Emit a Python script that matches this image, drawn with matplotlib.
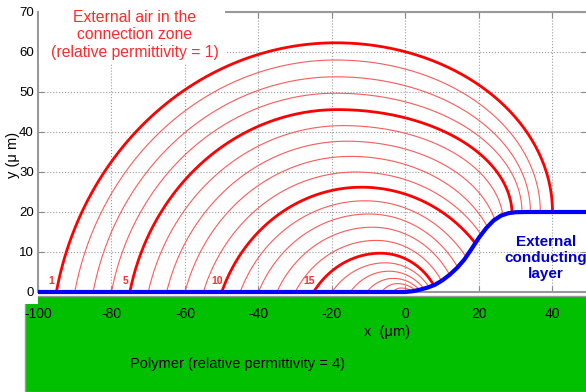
import numpy as np
import matplotlib.pyplot as plt
from matplotlib.patches import Rectangle

plt.rcParams['font.family'] = ['Liberation Sans', 'DejaVu Sans']
plt.rcParams['axes.unicode_minus'] = False

# conducting layer profile (um)
blue_x = [-100, 0, 2, 4, 6, 8, 10, 12, 14, 16, 18, 20, 22, 24, 26, 28, 30, 33, 49.5]
blue_y = [0, 0, 0.2, 0.6, 1.1, 1.8, 2.9, 4.3, 6.0, 8.1, 10.8, 13.6, 16.0, 17.9, 19.1, 19.7, 19.95, 20, 20]

# field lines: foot on the polymer, top of the arc, end on the conducting layer
foot_x = [-95, -90, -85, -80, -75, -70, -65, -60, -55, -50,
          -45, -40, -35, -30, -25, -20, -15, -10.5, -6.5, -3.5]
peak_x = [-19, -19, -19, -19, -18.5, -17, -16, -15, -13.5, -12,
          -11, -10, -9, -8, -6.8, -5.5, -4.5, -3.3, -2.2, -1.2]
peak_y = [62.3, 58.0, 53.8, 49.7, 45.6, 41.6, 37.7, 33.9, 30.0, 26.2,
          22.8, 19.5, 16.2, 12.9, 9.7, 7.3, 5.2, 3.4, 2.1, 1.0]
end_x = [40, 36.7, 34, 31.7, 29, 26.5, 24.3, 22.3, 20.6, 19,
         16.5, 14.2, 12, 9.8, 7.7, 6.4, 5.0, 3.8, 2.8, 1.8]
thick_lines = [0, 4, 9, 14]
line_labels = ['1', '5', '10', '15']

x_ticks = [-100, -80, -60, -40, -20, 0, 20, 40]
y_ticks = [0, 10, 20, 30, 40, 50, 60, 70]

end_y = np.interp(end_x, blue_x, blue_y)


def field_line(x0, px, py, ex, ey, n=120):
    # left half: circular arc, flat at the top
    dx = px - x0
    c = (py ** 2 - dx ** 2) / (2 * py)
    r = py - c
    t = np.linspace(np.arctan2(-c, x0 - px), np.pi / 2, n)
    lx, ly = px + r * np.cos(t), c + r * np.sin(t)
    # right half: elliptic arc down to the conducting layer
    X = ex - px
    cc = (py ** 2 - ey ** 2 - X ** 2) / (2 * (py - ey))
    c2 = max(ey - 3 * (20 - ey), cc)
    b = py - c2
    Y = ey - c2
    a = X / np.sqrt(max(1 - (Y / b) ** 2, 1e-9))
    t = np.linspace(np.pi / 2, np.arcsin(Y / b), n)
    rx, ry = px + a * np.cos(t), c2 + b * np.sin(t)
    return np.concatenate([lx, rx]), np.concatenate([ly, ry])


fig = plt.figure(figsize=(5.86, 3.92), dpi=100)
ax = fig.add_axes([38 / 586, 100 / 392, 549.4 / 586, 280 / 392])
ax.set_axisbelow(True)

# polymer block under the axes
ax.add_patch(Rectangle((25 / 586, 0), 1, 96 / 392, transform=fig.transFigure,
                       facecolor='#00c000', edgecolor='#999999', lw=1,
                       clip_on=False, zorder=0.3))

for i in range(len(foot_x)):
    xs, ys = field_line(foot_x[i], peak_x[i], peak_y[i], end_x[i], end_y[i])
    if i in thick_lines:
        ax.plot(xs, ys, color='#ff0000', lw=2, zorder=3)
    else:
        ax.plot(xs, ys, color='#ff5a5a', lw=0.8, zorder=3)

for k, lab in zip(thick_lines, line_labels):
    ax.text(foot_x[k] - 1.3, 2.8, lab, color='#ff3030', fontsize=7.5,
            fontweight='bold', ha='center', va='center', zorder=4)

ax.plot(blue_x, blue_y, color='#0000ff', lw=3, zorder=5, clip_on=False,
        solid_capstyle='butt')

ax.set_xlim(-100, 49.5)
ax.set_ylim(0, 70)
ax.set_xticks(x_ticks)
ax.set_yticks(y_ticks)
ax.grid(True, linestyle=':', color='#999999', lw=0.8)
ax.tick_params(direction='in', length=4, color='#888888', top=True, right=True)
ax.tick_params(axis='x', labelsize=10, pad=11)
ax.tick_params(axis='y', labelsize=9.5, pad=3)
for s in ['top', 'left', 'bottom']:
    ax.spines[s].set_color('#999999')
    ax.spines[s].set_linewidth(1.5)
ax.spines['right'].set_visible(False)
ax.get_yticklabels()[0].set_bbox(dict(facecolor='white', edgecolor='none',
                                      boxstyle='square,pad=0.35'))

# white box behind the air label
ax.add_patch(Rectangle((-99.6, 57.3), 50.6, 17, facecolor='white',
                       edgecolor='none', clip_on=False, zorder=2.6))
ax.text(-73.7, 64.3, 'External air in the\nconnection zone\n(relative permittivity = 1)',
        color='#ff2a2a', fontsize=11.3, ha='center', va='center', zorder=2.7)

ax.text(38.2, 8.5, 'External\nconducting\nlayer', color='#0000cc', fontsize=11,
        fontweight='bold', ha='center', va='center', zorder=6, clip_on=False)

fig.text(130 / 586, 28 / 392, 'Polymer (relative permittivity = 4)',
         fontsize=10.5, ha='left', va='center')
fig.text(387 / 586, 60 / 392, 'x  (μm)', fontsize=10.5, ha='center', va='center')
fig.text(13 / 586, 237 / 392, 'y (μ m)', fontsize=10.5, rotation=90,
         ha='center', va='center')

fig.savefig('out.png', dpi=100)
